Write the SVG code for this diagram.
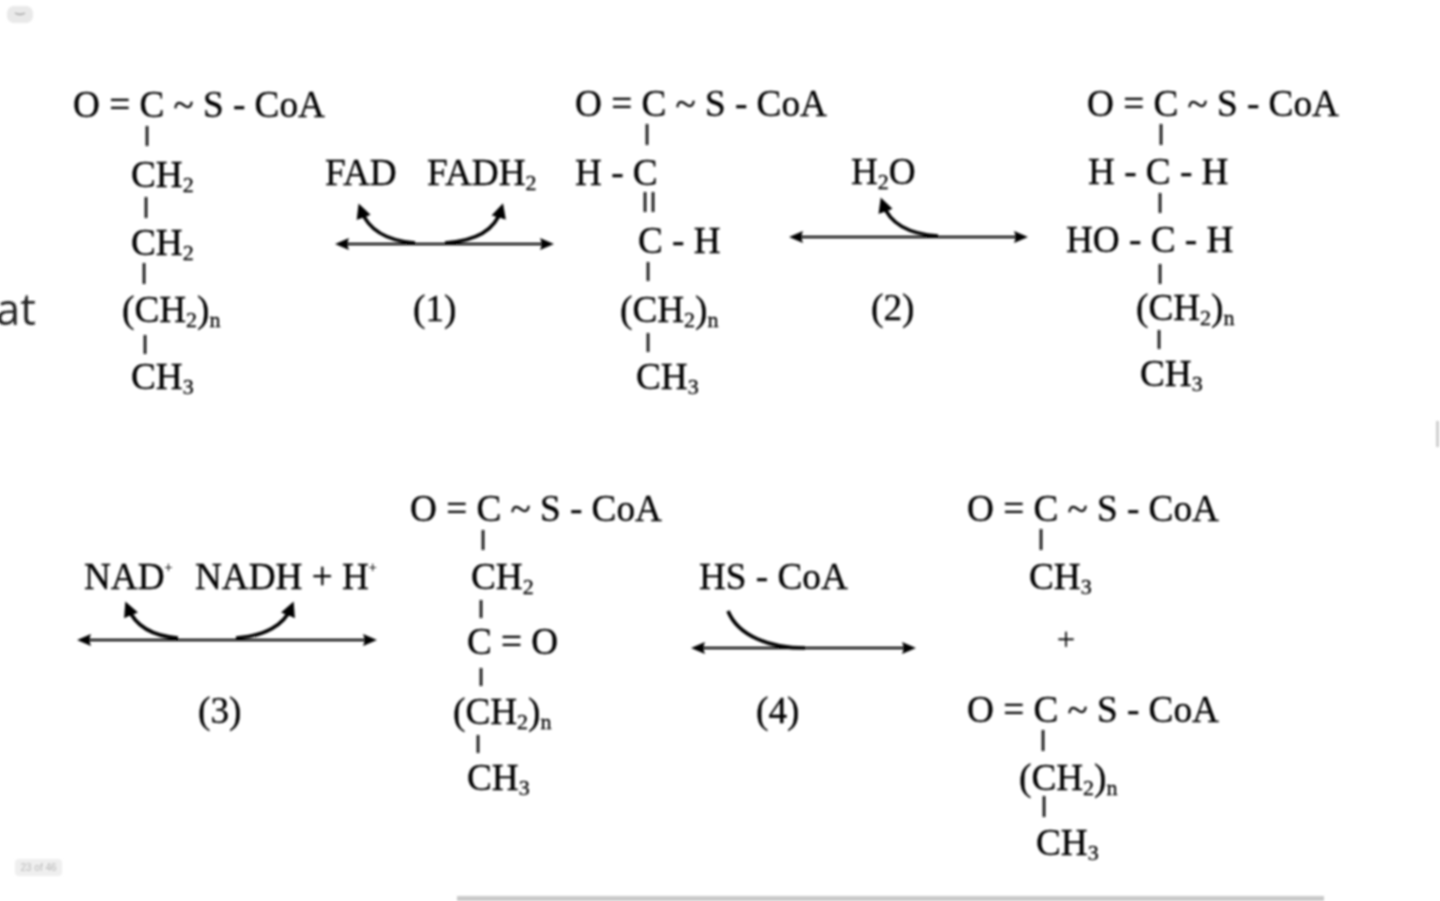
<svg xmlns="http://www.w3.org/2000/svg" width="1440" height="901" viewBox="0 0 1440 901">
<defs>
<style>
text{font-family:"Liberation Serif","Times New Roman",serif;font-size:37.2px;fill:#000;stroke:#000;stroke-width:.35;white-space:pre}
.sub{font-size:22px}
.sup{font-size:14px}
.bond{stroke:#111;stroke-width:2.7;fill:none}
.rxn{stroke:#111;stroke-width:2.6;fill:none}
.curve{stroke:#000;stroke-width:3.6;fill:none}
.head{fill:#000}
</style>
<filter id="soft" x="-5%" y="-5%" width="110%" height="110%"><feGaussianBlur stdDeviation="0.8"/></filter>
<marker id="ah" viewBox="0 0 14 14" refX="10" refY="7" markerWidth="14" markerHeight="14" markerUnits="userSpaceOnUse" orient="auto-start-reverse"><path class="head" d="M0 1L14 7L0 13L2 7Z"/></marker>
<marker id="ch" viewBox="0 0 15 15" refX="8" refY="7.500" markerWidth="15" markerHeight="15" markerUnits="userSpaceOnUse" orient="auto"><path class="head" d="M0 0L15 7.500L0 15Z"/></marker>
</defs>
<rect width="1440" height="901" fill="#fff"/>
<g id="ui" filter="url(#soft)">
<rect x="7" y="6" width="26" height="17" rx="7" fill="#e9e9e9"/>
<path d="M15 13Q20 16 25 13" stroke="#999" stroke-width="1.4" fill="none"/>
<rect x="15" y="859" width="47" height="17" rx="4" fill="#efefef"/>
<text x="38.500" y="871" text-anchor="middle" style="font-family:'Liberation Sans',sans-serif;font-size:10px;fill:#b5b5b5;stroke:none">23 of 46</text>
<rect x="457" y="896" width="867" height="5" fill="#c9c9c9"/>
<rect x="1436" y="421" width="3" height="26" fill="#cfcfcf"/>
<text x="36" y="325" text-anchor="end" style="font-family:'Open Sans',sans-serif;font-size:44px;fill:#222;stroke:none">at</text>
</g>
<g filter="url(#soft)">
<g id="connectors">
<path class="bond" d="M147 126V146M146 197V218M144 263V284M145 335V354"/>
<path class="bond" d="M647 124V145M645 192V212M653 192V212M648 262V281M648 333V352"/>
<path class="bond" d="M1161 124V145M1160 193V213M1160 264V284M1159 330V349"/>
<path class="bond" d="M483 530V550M481 600V618M481 668V686M478 735V753"/>
<path class="bond" d="M1041 529V550M1043 730V751M1044 796V817"/>
<path class="rxn" marker-start="url(#ah)" marker-end="url(#ah)" d="M339 244H550"/>
<path class="curve" marker-end="url(#ch)" d="M415 243C390 241 369 232 361 210"/>
<path class="curve" marker-end="url(#ch)" d="M445 243C475 241 495 230 501 210"/>
<path class="rxn" marker-start="url(#ah)" marker-end="url(#ah)" d="M793 237H1024"/>
<path class="curve" marker-end="url(#ch)" d="M938 236C908 234 890 224 883 204"/>
<path class="rxn" marker-start="url(#ah)" marker-end="url(#ah)" d="M81 640H373"/>
<path class="curve" marker-end="url(#ch)" d="M178 638C152 636 135 625 128 608"/>
<path class="curve" marker-end="url(#ch)" d="M236 638C265 636 284 625 291 608"/>
<path class="rxn" marker-start="url(#ah)" marker-end="url(#ah)" d="M695 648H912"/>
<path class="curve" d="M728 611C738 636 770 648 805 648"/>
</g>
<g id="mol1">
<text x="73" y="117">O = C ~ S - CoA</text>
<text x="131" y="187">CH<tspan class="sub" dy="5">2</tspan></text>
<text x="131" y="255">CH<tspan class="sub" dy="5">2</tspan></text>
<text x="122" y="322">(CH<tspan class="sub" dy="5">2</tspan><tspan dy="-5">)</tspan><tspan class="sub" dy="5">n</tspan></text>
<text x="131" y="389">CH<tspan class="sub" dy="5">3</tspan></text>
</g>
<g id="rxn1">
<text x="325" y="185">FAD</text>
<text x="427" y="185">FADH<tspan class="sub" dy="5">2</tspan></text>
<text x="413" y="321">(1)</text>
</g>
<g id="mol2">
<text x="575" y="116">O = C ~ S - CoA</text>
<text x="575" y="185">H - C</text>
<text x="638" y="253">C - H</text>
<text x="620" y="322">(CH<tspan class="sub" dy="5">2</tspan><tspan dy="-5">)</tspan><tspan class="sub" dy="5">n</tspan></text>
<text x="636" y="389">CH<tspan class="sub" dy="5">3</tspan></text>
</g>
<g id="rxn2">
<text x="851" y="184">H<tspan class="sub" dy="5">2</tspan><tspan dy="-5">O</tspan></text>
<text x="871" y="320">(2)</text>
</g>
<g id="mol3">
<text x="1087" y="116">O = C ~ S - CoA</text>
<text x="1088" y="184">H - C - H</text>
<text x="1066" y="252">HO - C - H</text>
<text x="1136" y="320">(CH<tspan class="sub" dy="5">2</tspan><tspan dy="-5">)</tspan><tspan class="sub" dy="5">n</tspan></text>
<text x="1140" y="386">CH<tspan class="sub" dy="5">3</tspan></text>
</g>
<g id="rxn3">
<text x="84" y="589">NAD<tspan class="sup" dy="-17">+</tspan></text>
<text x="195" y="589">NADH + H<tspan class="sup" dy="-17">+</tspan></text>
<text x="198" y="723">(3)</text>
</g>
<g id="mol4">
<text x="410" y="521">O = C ~ S - CoA</text>
<text x="471" y="589">CH<tspan class="sub" dy="5">2</tspan></text>
<text x="467" y="654">C = O</text>
<text x="453" y="724">(CH<tspan class="sub" dy="5">2</tspan><tspan dy="-5">)</tspan><tspan class="sub" dy="5">n</tspan></text>
<text x="467" y="790">CH<tspan class="sub" dy="5">3</tspan></text>
</g>
<g id="rxn4">
<text x="699" y="589">HS - CoA</text>
<text x="756" y="723">(4)</text>
</g>
<g id="mol5">
<text x="967" y="521">O = C ~ S - CoA</text>
<text x="1029" y="589">CH<tspan class="sub" dy="5">3</tspan></text>
<text x="1066" y="650" text-anchor="middle" style="font-size:32px">+</text>
</g>
<g id="mol6">
<text x="967" y="722">O = C ~ S - CoA</text>
<text x="1019" y="790">(CH<tspan class="sub" dy="5">2</tspan><tspan dy="-5">)</tspan><tspan class="sub" dy="5">n</tspan></text>
<text x="1036" y="855">CH<tspan class="sub" dy="5">3</tspan></text>
</g>
</g>
</svg>
